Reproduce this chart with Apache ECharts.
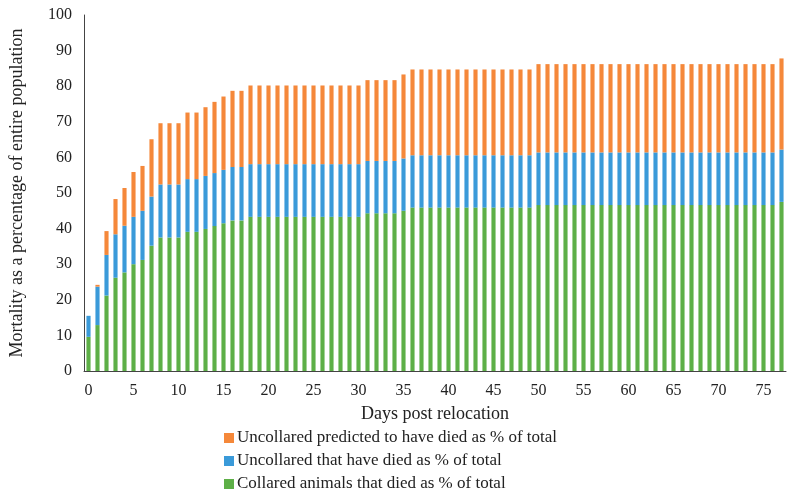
<!DOCTYPE html>
<html>
<head>
<meta charset="utf-8">
<script src="https://cdn.jsdelivr.net/npm/echarts@6/dist/echarts.min.js"></script>
<style>
html,body{margin:0;padding:0;background:#fff;}
#chart{width:793px;height:498px;}
</style>
</head>
<body>
<div id="chart"></div>
<script>
var days = [];
for (var d = 0; d <= 77; d++) days.push(String(d));

var seriesNames = [
  'Collared animals that died as % of total',
  'Uncollared that have died as % of total',
  'Uncollared predicted to have died as % of total'
];

// Collared animals that died (green, bottom segment)
var collared = [9.6,12.9,21.2,26.2,27.7,30.0,31.2,35.2,37.5,37.5,37.5,39.1,39.1,39.9,40.7,41.5,42.3,42.3,
  43.3,43.3,43.3,43.3,43.3,43.3,43.3,43.3,43.3,43.3,43.3,43.3,43.3,
  44.3,44.3,44.3,44.3,
  45.0,
  45.9,45.9,45.9,45.9,45.9,45.9,45.9,45.9,45.9,45.9,45.9,45.9,45.9,45.9,
  46.6,46.6,46.6,46.6,46.6,46.6,46.6,46.6,46.6,46.6,46.6,46.6,46.6,46.6,46.6,46.6,46.6,46.6,46.6,46.6,46.6,46.6,46.6,46.6,46.6,46.6,46.6,
  47.5];

// Uncollared that have died (blue, middle segment)
var uncollaredDied = [5.9,10.8,11.4,12.2,13.1,13.3,13.8,13.8,14.9,14.9,14.9,14.8,14.8,14.9,14.9,15.0,15.0,15.0,
  14.8,14.8,14.8,14.8,14.8,14.8,14.8,14.8,14.8,14.8,14.8,14.8,14.8,
  14.7,14.7,14.7,14.7,
  14.7,
  14.7,14.7,14.7,14.7,14.7,14.7,14.7,14.7,14.7,14.7,14.7,14.7,14.7,14.7,
  14.8,14.8,14.8,14.8,14.8,14.8,14.8,14.8,14.8,14.8,14.8,14.8,14.8,14.8,14.8,14.8,14.8,14.8,14.8,14.8,14.8,14.8,14.8,14.8,14.8,14.8,14.8,
  14.7];

// Uncollared predicted to have died (orange, top segment)
var uncollaredPredicted = [0,0.5,6.7,9.9,10.6,12.6,12.6,16.1,17.2,17.2,17.2,18.7,18.7,19.3,20.0,20.6,21.4,21.4,
  22.1,22.1,22.1,22.1,22.1,22.1,22.1,22.1,22.1,22.1,22.1,22.1,22.1,
  22.7,22.7,22.7,22.7,
  23.6,
  24.1,24.1,24.1,24.1,24.1,24.1,24.1,24.1,24.1,24.1,24.1,24.1,24.1,24.1,
  24.8,24.8,24.8,24.8,24.8,24.8,24.8,24.8,24.8,24.8,24.8,24.8,24.8,24.8,24.8,24.8,24.8,24.8,24.8,24.8,24.8,24.8,24.8,24.8,24.8,24.8,24.8,
  25.6];

var colors = ['#5DAF47', '#3A9AD9', '#F5883A'];
var font = "'Liberation Serif', 'DejaVu Serif', serif";

var chart = echarts.init(document.getElementById('chart'), null, {renderer: 'canvas'});
chart.setOption({
  animation: false,
  backgroundColor: '#fff',
  textStyle: {fontFamily: font},
  grid: {left: 84, right: 7, top: 15, bottom: 127, containLabel: false},
  legend: {
    orient: 'vertical',
    left: 224,
    top: 429,
    height: 69,
    padding: 0,
    itemWidth: 10,
    itemHeight: 10,
    itemGap: 5,
    icon: 'rect',
    data: [seriesNames[2], seriesNames[1], seriesNames[0]],
    textStyle: {fontFamily: font, fontSize: 17, lineHeight: 18, color: '#222', padding: [0, 0, 0, -2]}
  },
  xAxis: {
    type: 'category',
    data: days,
    name: 'Days post relocation',
    nameLocation: 'middle',
    nameGap: 34,
    nameTextStyle: {fontFamily: font, fontSize: 18, color: '#222'},
    axisLine: {show: true, lineStyle: {color: '#444', width: 1}},
    axisTick: {show: false},
    axisLabel: {interval: 4, fontFamily: font, fontSize: 16, color: '#222', margin: 12},
    splitLine: {show: false}
  },
  yAxis: {
    type: 'value',
    min: 0,
    max: 100,
    interval: 10,
    name: 'Mortality as a percentage of entire population',
    nameLocation: 'middle',
    nameGap: 58,
    nameTextStyle: {fontFamily: font, fontSize: 18, color: '#222'},
    axisLine: {show: true, lineStyle: {color: '#444', width: 1}},
    axisTick: {show: false},
    axisLabel: {fontFamily: font, fontSize: 16, color: '#222', margin: 12},
    splitLine: {show: false}
  },
  series: [
    {name: seriesNames[0], type: 'bar', stack: 'total', data: collared, itemStyle: {color: colors[0]}, barWidth: '46%'},
    {name: seriesNames[1], type: 'bar', stack: 'total', data: uncollaredDied, itemStyle: {color: colors[1]}, barWidth: '46%'},
    {name: seriesNames[2], type: 'bar', stack: 'total', data: uncollaredPredicted, itemStyle: {color: colors[2]}, barWidth: '46%'}
  ]
});
</script>
</body>
</html>
